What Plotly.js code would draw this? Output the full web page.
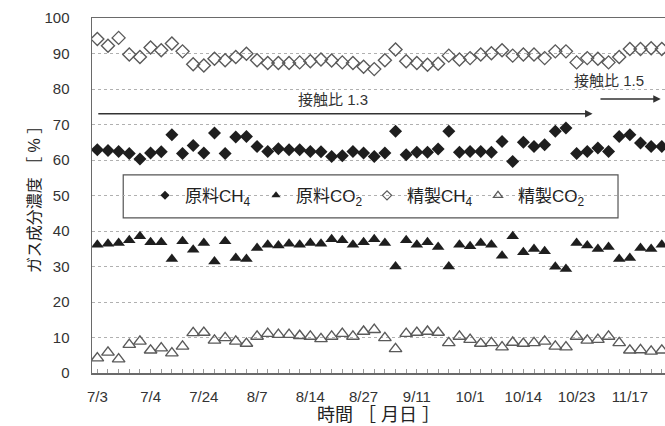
<!DOCTYPE html>
<html>
<head>
<meta charset="utf-8">
<script src="https://cdn.plot.ly/plotly-3.0.1.min.js"></script>
<style>html,body{margin:0;padding:0;background:#fff;}#chart{width:665px;height:426px;}</style>
</head>
<body>
<div id="chart"></div>
<script>
// Date labels shown every 5 samples
const dateLabels = ['7/3','7/4','7/24','8/7','8/14','8/27','9/11','10/1','10/14','10/23','11/17'];
const labelEvery = 5;

// Series values (%), one per sample
const rawCH4 = [62.9,62.7,62.4,61.8,60.3,62.0,62.3,67.1,61.8,64.1,62.0,67.6,61.8,66.5,66.6,63.8,62.4,63.2,62.9,62.9,62.4,62.3,61.0,61.2,62.4,62.0,
                61.0,62.0,68.1,61.5,62.2,62.2,63.1,68.1,62.2,62.4,62.4,62.2,65.2,59.6,65.0,63.8,64.3,68.1,69.0,61.8,62.4,63.4,62.4,66.6,67.1,64.8,63.8,63.8];
const rawCO2 = [36.1,36.4,36.6,37.4,38.5,36.8,36.8,32.1,37.1,34.7,36.6,31.4,37.1,32.4,32.1,35.2,36.1,35.9,36.4,36.1,36.6,36.4,37.7,37.4,36.1,36.8,
                37.7,36.6,30.0,37.4,36.1,36.8,35.5,30.0,36.1,35.7,36.6,36.1,33.0,38.5,34.0,34.9,34.3,29.9,29.3,36.6,35.9,34.9,35.5,32.1,32.4,35.2,34.9,36.1];
const refCH4 = [94.1,92.2,94.4,89.7,89.0,91.7,90.9,92.8,90.6,87.0,86.6,88.5,88.1,89.0,89.9,88.1,87.3,87.3,87.3,87.5,87.8,88.3,88.0,87.5,87.3,86.3,
                85.6,88.1,91.1,87.8,87.3,86.8,87.1,89.4,88.3,88.7,89.7,90.1,90.9,89.4,89.7,89.7,88.7,90.6,90.6,87.5,88.7,88.5,87.5,89.0,91.3,91.3,91.5,91.3];
const refCO2 = [4.2,5.8,3.9,8.0,8.9,6.4,7.0,5.6,7.5,11.3,11.4,9.2,9.9,8.9,8.3,10.3,11.1,10.8,10.8,10.5,10.3,9.6,10.3,11.1,10.3,11.7,
                12.2,9.9,6.8,11.1,11.4,11.7,11.4,8.5,10.3,9.4,8.3,8.5,7.3,8.6,8.3,8.5,8.9,7.5,7.3,10.3,9.2,9.4,10.3,8.5,6.4,6.5,6.1,6.4];

const seriesNames = ['原料CH<sub>4</sub>','原料CO<sub>2</sub>','精製CH<sub>4</sub>','精製CO<sub>2</sub>'];

// Contact-ratio annotations
const ratioLabels = ['接触比 1.3','接触比 1.5'];

const idx = rawCH4.map((_, i) => i);
const majorVals = dateLabels.map((_, k) => k * labelEvery);

const FONT = '"Liberation Sans", Arial, "Noto Sans CJK JP", sans-serif';
const dark = '#1e1e1e';
const grey = '#5a5a5a';

const styles = [
  {symbol: 'diamond', color: dark},
  {symbol: 'triangle-up', color: dark},
  {symbol: 'diamond-open', color: grey, line: {width: 1.4, color: grey}},
  {symbol: 'triangle-up-open', color: grey, line: {width: 1.4, color: grey}}
];
const sizes = [10, 11, 10, 11];
const legendSizes = [7, 8, 7, 8];
const series = [rawCH4, rawCO2, refCH4, refCO2];

const traces = [];
series.forEach((vals, s) => {
  traces.push({x: idx, y: vals, name: seriesNames[s], mode: 'markers', type: 'scatter',
    showlegend: false, marker: Object.assign({size: sizes[s]}, styles[s])});
});
// legend entries (smaller symbols, as in the reference legend)
series.forEach((vals, s) => {
  traces.push({x: [null], y: [null], name: seriesNames[s], mode: 'markers', type: 'scatter',
    showlegend: true, marker: Object.assign({size: legendSizes[s]}, styles[s],
      styles[s].line ? {line: {width: 1.2, color: grey}} : {})});
});

const layout = {
  width: 665, height: 426,
  margin: {l: 92, r: 0, t: 18, b: 53},
  paper_bgcolor: '#fff', plot_bgcolor: '#fff',
  font: {family: FONT, color: '#2a2a2a', size: 15},
  showlegend: true,
  legend: {orientation: 'h', x: 0.0925, y: 0.55, xanchor: 'left', yanchor: 'top',
           bgcolor: 'rgba(0,0,0,0)', borderwidth: 0, font: {size: 17, color: '#222'},
           itemwidth: 30, traceorder: 'normal', entrywidth: 66, entrywidthmode: 'pixels'},
  xaxis: {
    range: [-0.5, 53.3], tickmode: 'array', tickvals: majorVals, ticktext: dateLabels,
    ticks: 'inside', ticklen: 4, tickcolor: '#999', tickwidth: 1,
    minor: {tickmode: 'linear', tick0: 0, dtick: 1, ticks: 'inside', ticklen: 4, tickcolor: '#999', tickwidth: 1, showgrid: false},
    showline: true, linecolor: '#6a6a6a', linewidth: 1.5, mirror: true,
    showgrid: false, zeroline: false, ticklabelstandoff: 9,
    tickfont: {size: 15, color: '#333'},
    title: {text: '時間 ［ 月日 ］', font: {size: 18, color: '#222'}, standoff: 5}
  },
  yaxis: {
    range: [0, 100], dtick: 10, tick0: 0,
    ticks: '', showline: true, linecolor: '#6a6a6a', linewidth: 1.5,
    showgrid: true, gridcolor: '#b0b0b0', griddash: 'dot', gridwidth: 1,
    zeroline: false, ticklabelstandoff: 18,
    tickfont: {size: 15, color: '#333'},
    title: {text: 'ガス成分濃度 ［ % ］', font: {size: 16, color: '#222'}, standoff: 0}
  },
  shapes: [
    {type: 'rect', xref: 'paper', yref: 'paper', x0: 0.0545, x1: 0.918, y0: 0.437, y1: 0.558,
     line: {color: '#555', width: 1.2}, fillcolor: '#fff', layer: 'below'}
  ],
  annotations: [
    {x: 46.5, y: 73.0, ax: -0.05, ay: 73.0, axref: 'x', ayref: 'y', xref: 'x', yref: 'y',
     text: '', showarrow: true, arrowhead: 2, arrowsize: 1, arrowwidth: 1.5, arrowcolor: '#333'},
    {x: 52.9, y: 77.2, ax: 47.1, ay: 77.2, axref: 'x', ayref: 'y', xref: 'x', yref: 'y',
     text: '', showarrow: true, arrowhead: 2, arrowsize: 1, arrowwidth: 1.5, arrowcolor: '#333'},
    {x: 22.1, y: 77.0, xref: 'x', yref: 'y', text: ratioLabels[0], showarrow: false,
     font: {size: 15, color: '#333'}},
    {x: 48.0, y: 82.3, xref: 'x', yref: 'y', text: ratioLabels[1], showarrow: false,
     font: {size: 15, color: '#333'}}
  ]
};

Plotly.newPlot('chart', traces, layout, {staticPlot: true, displayModeBar: false});
</script>
</body>
</html>
